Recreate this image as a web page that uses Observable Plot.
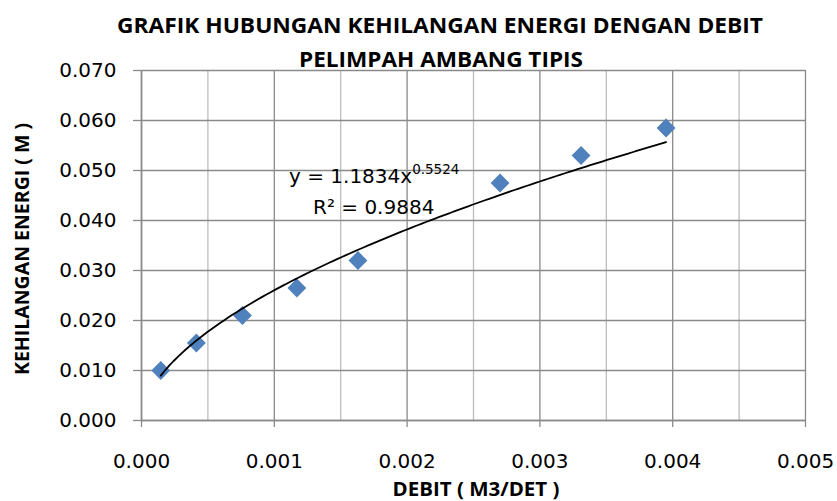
<!DOCTYPE html>
<html>
<head>
<meta charset="utf-8">
<script src="https://cdn.jsdelivr.net/npm/d3@7"></script>
<script src="https://cdn.jsdelivr.net/npm/@observablehq/plot@0.6"></script>
<style>
  html, body { margin: 0; padding: 0; background: #fff; }
  #chart { width: 837px; height: 501px; }
</style>
</head>
<body>
<div id="chart"></div>
<script>
// ---- Data ----
const debit  = [0.000145, 0.000413, 0.00076, 0.00117, 0.00163, 0.0027, 0.00331, 0.00395];
const energi = [0.0100, 0.0155, 0.0210, 0.0265, 0.0320, 0.0475, 0.0530, 0.0585];

const xMajorTicks = [0, 0.001, 0.002, 0.003, 0.004, 0.005];
const xMinorTicks = [0.0005, 0.0015, 0.0025, 0.0035, 0.0045];
const yTicks = [0, 0.01, 0.02, 0.03, 0.04, 0.05, 0.06, 0.07];

// Power trendline shown on the chart: y = 1.1834 x^0.5524, R² = 0.9884
const trendA = 1.1834;
const trendB = 0.5524;
const trendR2 = "0.9884";

const titleLines = ["GRAFIK HUBUNGAN KEHILANGAN ENERGI DENGAN DEBIT", "PELIMPAH AMBANG TIPIS"];
const xLabel = "DEBIT ( M3/DET )";
const yLabel = "KEHILANGAN ENERGI ( M )";

const points = debit.map((d, i) => ({x: d, y: energi[i]}));
const x0 = d3.min(debit), x1 = d3.max(debit);
const trend = d3.range(0, 121).map(i => {
  const x = x0 + (x1 - x0) * i / 120;
  return {x, y: trendA * Math.pow(x, trendB)};
});

const fmt = d3.format(".3f");
const font = "DejaVu Sans";

const plot = Plot.plot({
  width: 837,
  height: 501,
  marginLeft: 141,
  marginRight: 32,
  marginTop: 70,
  marginBottom: 81,
  style: {fontFamily: font, fontSize: "20px", color: "#000", background: "#fff", overflow: "visible"},
  x: {domain: [0, 0.005]},
  y: {domain: [0, 0.07]},
  marks: [
    Plot.gridX(xMinorTicks, {stroke: "#bdbdbd", strokeOpacity: 1, strokeWidth: 1.3}),
    Plot.gridX(xMajorTicks, {stroke: "#8a8a8a", strokeOpacity: 1, strokeWidth: 1.3}),
    Plot.gridY(yTicks, {stroke: "#8a8a8a", strokeOpacity: 1, strokeWidth: 1.3}),
    Plot.axisY(yTicks, {tickFormat: fmt, tickSize: 8, tickPadding: 17, label: null, stroke: "#8a8a8a", strokeWidth: 1.3, fontSize: 20}),
    Plot.axisX(xMajorTicks, {tickFormat: fmt, tickSize: 7, tickPadding: 26, label: null, stroke: "#8a8a8a", strokeWidth: 1.3, fontSize: 20}),
    Plot.ruleX([0], {stroke: "#8a8a8a", strokeWidth: 1.6}),
    Plot.ruleY([0], {stroke: "#8a8a8a", strokeWidth: 1.6}),
    Plot.dot(points, {x: "x", y: "y", symbol: "diamond2", r: 8.5, fill: "#4F81BD", stroke: null}),
    Plot.line(trend, {x: "x", y: "y", stroke: "#000", strokeWidth: 1.8, curve: "linear"})
  ]
});

document.getElementById("chart").appendChild(plot);

// ---- Annotations (titles, axis labels, trendline equation) ----
const svg = d3.select(plot);
const g = svg.append("g");

g.append("text")
  .attr("x", 440).attr("y", 33)
  .attr("text-anchor", "middle")
  .attr("font-family", "'Open Sans'").attr("font-weight", "bold").attr("font-size", 21.5)
  .attr("textLength", 646).attr("lengthAdjust", "spacingAndGlyphs")
  .text(titleLines[0]);
g.append("text")
  .attr("x", 441).attr("y", 67)
  .attr("text-anchor", "middle")
  .attr("font-family", "'Open Sans'").attr("font-weight", "bold").attr("font-size", 21.5)
  .attr("textLength", 284).attr("lengthAdjust", "spacingAndGlyphs")
  .text(titleLines[1]);

g.append("text")
  .attr("x", 476).attr("y", 496)
  .attr("text-anchor", "middle")
  .attr("font-family", "'Open Sans'").attr("font-weight", "bold").attr("font-size", 19)
  .attr("textLength", 167).attr("lengthAdjust", "spacingAndGlyphs")
  .text(xLabel);

g.append("text")
  .attr("transform", "translate(29,249) rotate(-90)")
  .attr("text-anchor", "middle")
  .attr("font-family", "'Open Sans'").attr("font-weight", "bold").attr("font-size", 20)
  .attr("textLength", 252).attr("lengthAdjust", "spacingAndGlyphs")
  .text(yLabel);

const eq = g.append("text")
  .attr("x", 289).attr("y", 183)
  .attr("text-anchor", "start")
  .attr("font-family", font).attr("font-size", 20);
eq.append("tspan").text(`y = ${trendA}x`);
eq.append("tspan").attr("font-size", 13.5).attr("dy", -9).text(trendB);

g.append("text")
  .attr("x", 313).attr("y", 214)
  .attr("text-anchor", "start")
  .attr("font-family", font).attr("font-size", 20)
  .text(`R² = ${trendR2}`);
</script>
</body>
</html>
